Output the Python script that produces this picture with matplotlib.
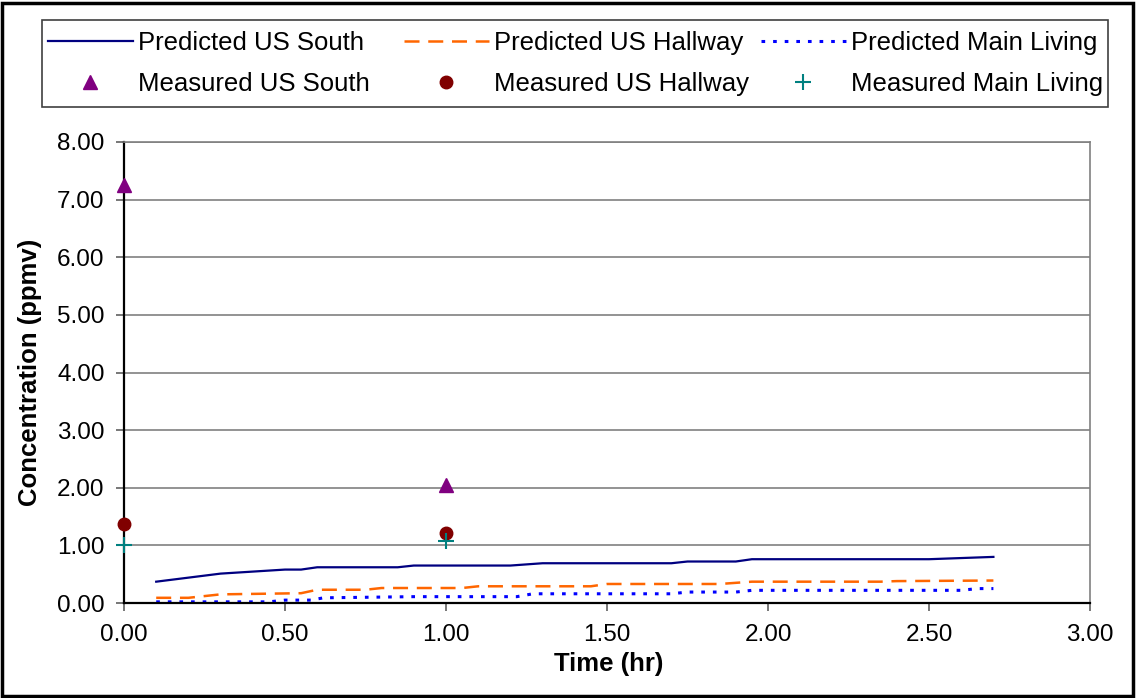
import numpy as np
import matplotlib.pyplot as plt
from matplotlib.patches import Rectangle

plt.rcParams['font.family'] = ['Liberation Sans', 'DejaVu Sans']

# predicted series (time in hr, concentration in ppmv)
south_t = [0.1, 0.3, 0.5, 0.55, 0.6, 0.85, 0.9, 1.2, 1.3, 1.7, 1.75, 1.9, 1.95, 2.5, 2.7]
south_c = [0.37, 0.51, 0.58, 0.58, 0.62, 0.62, 0.65, 0.65, 0.69, 0.69, 0.72, 0.72, 0.76, 0.76, 0.80]

hall_t = [0.1, 0.2, 0.3, 0.55, 0.6, 0.75, 0.8, 1.05, 1.1, 1.45, 1.5, 1.85, 1.95, 2.35, 2.4, 2.7]
hall_c = [0.09, 0.09, 0.15, 0.17, 0.23, 0.23, 0.26, 0.26, 0.29, 0.29, 0.33, 0.33, 0.37, 0.37, 0.38, 0.39]

living_t = [0.1, 0.45, 0.5, 0.58, 0.62, 0.9, 1.22, 1.27, 1.7, 1.75, 1.9, 1.95, 2.6, 2.65, 2.7]
living_c = [0.02, 0.02, 0.05, 0.05, 0.09, 0.11, 0.11, 0.16, 0.16, 0.19, 0.19, 0.22, 0.22, 0.25, 0.25]

# measured points
meas_t = [0.0, 1.0]
meas_south = [7.25, 2.05]
meas_hall = [1.37, 1.22]
meas_living = [1.0, 1.07]

W, H = 1136, 698
fig = plt.figure(figsize=(W / 100, H / 100), dpi=100)
ax = fig.add_axes([124 / W, 1 - 603 / H, (1090 - 124) / W, (603 - 142) / H])

h_ps, = ax.plot(south_t, south_c, color='#000080', lw=1.6, label='Predicted US South')
h_ph, = ax.plot(hall_t, hall_c, color='#FF6600', lw=1.8, linestyle=(0, (6, 3.5)),
                label='Predicted US Hallway')
h_pl, = ax.plot(living_t, living_c, color='#0000FF', lw=2.2, linestyle=(0, (1.2, 2.6)),
                label='Predicted Main Living')
h_ms, = ax.plot(meas_t, meas_south, '^', color='#800080', ms=10, clip_on=False,
                label='Measured US South', zorder=5)
h_mh, = ax.plot(meas_t, meas_hall, 'o', color='#800000', ms=9, clip_on=False,
                label='Measured US Hallway', zorder=5)
h_ml, = ax.plot(meas_t, meas_living, '+', color='#008080', ms=11, mew=1.5, clip_on=False,
                label='Measured Main Living', zorder=6)

ax.set_xlim(0, 3)
ax.set_ylim(0, 8)
ax.set_xticks(np.arange(0, 3.01, 0.5))
ax.set_yticks(np.arange(0, 8.01, 1))
ax.xaxis.set_major_formatter(plt.FormatStrFormatter('%.2f'))
ax.yaxis.set_major_formatter(plt.FormatStrFormatter('%.2f'))
ax.tick_params(labelsize=17.5, length=6, width=1.2, direction='out',
               color='#606060', labelcolor='black')
ax.tick_params(axis='x', pad=9)
ax.tick_params(axis='y', pad=8)
ax.grid(axis='y', color='#808080', lw=1.2)
ax.set_axisbelow(True)
for s in ['top', 'right']:
    ax.spines[s].set_color('#808080')
    ax.spines[s].set_linewidth(1.2)
for s in ['left', 'bottom']:
    ax.spines[s].set_linewidth(1.6)

ax.set_xlabel('Time (hr)', fontsize=18.5, fontweight='bold')
ax.set_ylabel('Concentration (ppmv)', fontsize=18.5, fontweight='bold')
ax.xaxis.set_label_coords((609 - 124) / 966, (603 - 652) / 461)
ax.yaxis.set_label_coords((42 - 124) / 966, 0.5)

# legend: three columns placed where the reference has them
cols = [(48, [h_ps, h_ms]), (404, [h_ph, h_mh]), (761, [h_pl, h_ml])]
for x0, hs in cols:
    lg = fig.legend(handles=hs, loc='upper left', bbox_to_anchor=(x0 / W, 1 - 31 / H),
                    frameon=False, fontsize=18.5, handlelength=3.3, handletextpad=0.2,
                    labelspacing=0.67, borderpad=0, borderaxespad=0, numpoints=1)

# legend frame
fig.patches.append(Rectangle((42 / W, 1 - 107 / H), (1108 - 42) / W, 87 / H,
                             transform=fig.transFigure, fill=False,
                             edgecolor='#404040', lw=1.2))

# outer border round the figure
fig.patches.append(Rectangle((0.002, 0.003), 0.995, 0.993, transform=fig.transFigure,
                             fill=False, edgecolor='black', lw=2.5))

fig.savefig('out.png', dpi=100)
